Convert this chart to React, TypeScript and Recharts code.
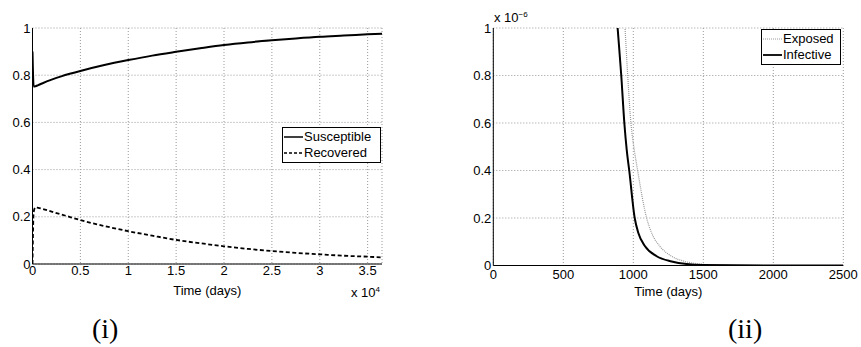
import React from 'react'
import { LineChart, Line, XAxis, YAxis, CartesianGrid } from 'recharts'

// panel (i): time in units of 10^4 days
const longTime = [0, 0.012, 0.03, 0.06, 0.1, 0.2, 0.3, 0.4, 0.5, 0.75, 1, 1.25, 1.5, 1.75, 2, 2.25, 2.5, 2.75, 3, 3.25, 3.5, 3.65]
const susceptible = [0.9, 0.752, 0.753, 0.758, 0.765, 0.781, 0.795, 0.807, 0.818, 0.843, 0.864, 0.883, 0.899, 0.914, 0.928, 0.939, 0.948, 0.956, 0.963, 0.968, 0.973, 0.976]
const recovered = [0, 0.22, 0.24, 0.238, 0.234, 0.222, 0.21, 0.198, 0.186, 0.161, 0.139, 0.12, 0.102, 0.088, 0.075, 0.064, 0.055, 0.047, 0.041, 0.035, 0.031, 0.028]
const longTicks = [0, 0.5, 1, 1.5, 2, 2.5, 3, 3.5]
const fracTicks = [0, 0.2, 0.4, 0.6, 0.8, 1]

// panel (ii): days, values in units of 10^-6
const exposedDays = [900, 941, 960, 983, 1007, 1031, 1095, 1131, 1190, 1274, 1369, 1480, 1600, 2000, 2500]
const exposed = [1.45, 1.0, 0.8, 0.6, 0.487, 0.4, 0.2, 0.137, 0.081, 0.039, 0.017, 0.006, 0.002, 0, 0]
const infectiveDays = [860, 888, 914, 936, 953, 971, 1010, 1036, 1084, 1167, 1274, 1381, 1500, 2000, 2500]
const infective = [1.22, 1.0, 0.8, 0.6, 0.487, 0.4, 0.2, 0.137, 0.081, 0.039, 0.017, 0.006, 0.002, 0, 0]
const dayTicks = [0, 500, 1000, 1500, 2000, 2500]

const longData = longTime.map((t, i) => ({ t, s: susceptible[i], r: recovered[i] }))
const exposedData = exposedDays.map((t, i) => ({ t, v: exposed[i] }))
const infectiveData = infectiveDays.map((t, i) => ({ t, v: infective[i] }))

const FONT = '"Liberation Sans", Arial, sans-serif'
const tickStyle = { fontSize: 13, fill: '#000', fontFamily: FONT }

type Item = { label: string; dash?: string; color: string; w: number }

function LegendBox({ items, left, top, width }: { items: Item[]; left: number; top: number; width: number }) {
  return (
    <div style={{ position: 'absolute', left, top, width, boxSizing: 'border-box', border: '1.5px solid #000', background: '#fff',
      padding: '1px 1px', fontFamily: FONT, fontSize: 13, lineHeight: '16px' }}>
      {items.map(it => (
        <div key={it.label} style={{ display: 'flex', alignItems: 'center' }}>
          <svg width={19} height={10} style={{ marginRight: 1 }}>
            <line x1={0} y1={5} x2={19} y2={5} stroke={it.color} strokeWidth={it.w} strokeDasharray={it.dash} />
          </svg>
          <span>{it.label}</span>
        </div>
      ))}
    </div>
  )
}

export default function App() {
  return (
    <div style={{ position: 'absolute', left: 0, top: 0, width: 861, height: 347, background: '#fff' }}>
      <div style={{ position: 'absolute', left: 0, top: 0 }}>
        <LineChart width={420} height={300} data={longData} margin={{ top: 28, right: 38, bottom: 6, left: 0 }}>
          <CartesianGrid strokeDasharray="1 2" stroke="#999" />
          <XAxis dataKey="t" type="number" domain={[0, 3.65]} ticks={longTicks} allowDataOverflow
            height={30} tickSize={0} tickMargin={2} tick={tickStyle} stroke="#000"
            label={{ value: 'Time (days)', position: 'insideBottom', offset: -1, style: { fontSize: 13, fill: '#000', fontFamily: FONT } }} />
          <YAxis type="number" domain={[0, 1]} ticks={fracTicks} width={32.5} tickSize={0} tickMargin={2}
            tick={tickStyle} stroke="#000" />
          <Line type="monotone" dataKey="s" stroke="#000" strokeWidth={2} dot={false} isAnimationActive={false} />
          <Line type="monotone" dataKey="r" stroke="#000" strokeWidth={1.8} strokeDasharray="4 2.5" dot={false} isAnimationActive={false} />
        </LineChart>
      </div>
      <LegendBox left={282} top={127} width={99} items={[
        { label: 'Susceptible', color: '#000', w: 1.5 },
        { label: 'Recovered', color: '#000', w: 1.5, dash: '3 2' },
      ]} />
      <div style={{ position: 'absolute', left: 351, top: 285, fontFamily: FONT, fontSize: 13 }}>
        x 10<sup style={{ fontSize: 8 }}>4</sup>
      </div>

      <div style={{ position: 'absolute', left: 440, top: 0 }}>
        <LineChart width={421} height={300} margin={{ top: 28, right: 17.7, bottom: 4.5, left: 0 }}>
          <CartesianGrid strokeDasharray="1 2" stroke="#999" />
          <XAxis dataKey="t" type="number" domain={[0, 2500]} ticks={dayTicks} allowDataOverflow
            height={30} tickSize={0} tickMargin={4} tick={tickStyle} stroke="#000"
            label={{ value: 'Time (days)', position: 'insideBottom', offset: 0, style: { fontSize: 13, fill: '#000', fontFamily: FONT } }} />
          <YAxis type="number" domain={[0, 1]} ticks={fracTicks} allowDataOverflow width={53.3} tickSize={0} tickMargin={2}
            tick={tickStyle} stroke="#000" />
          <Line type="monotone" data={exposedData} dataKey="v" stroke="#999" strokeWidth={1.2} strokeDasharray="1 1" dot={false} isAnimationActive={false} />
          <Line type="monotone" data={infectiveData} dataKey="v" stroke="#000" strokeWidth={2} dot={false} isAnimationActive={false} />
        </LineChart>
      </div>
      <LegendBox left={761} top={29} width={80} items={[
        { label: 'Exposed', color: '#999', w: 1, dash: '1 1' },
        { label: 'Infective', color: '#000', w: 1.8 },
      ]} />
      <div style={{ position: 'absolute', left: 494, top: 10, fontFamily: FONT, fontSize: 13 }}>
        x 10<sup style={{ fontSize: 8 }}>−6</sup>
      </div>

      <div style={{ position: 'absolute', left: 92, top: 313, fontFamily: '"Liberation Serif", serif', fontSize: 28 }}>(i)</div>
      <div style={{ position: 'absolute', left: 728, top: 313, fontFamily: '"Liberation Serif", serif', fontSize: 28 }}>(ii)</div>
    </div>
  )
}
